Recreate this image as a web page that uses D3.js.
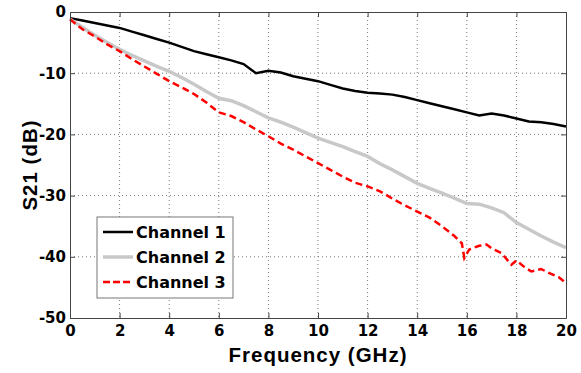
<!DOCTYPE html>
<html>
<head>
<meta charset="utf-8">
<script src="https://cdn.jsdelivr.net/npm/d3@7"></script>
<style>
body { margin: 0; background: #fff; }
text { font-family: "DejaVu Sans", sans-serif; font-weight: bold; }
text.label { font-family: "Liberation Sans", Arial, sans-serif; letter-spacing: 1px; }
</style>
</head>
<body>
<script>
// values (GHz, dB)
var freqs = [0,0.5,1,1.5,2,2.5,3,3.5,4,4.5,5,5.5,6,6.5,7,7.5,8,8.5,9,9.5,10,
             10.5,11,11.5,12,12.5,13,13.5,14,14.5,15,15.5,16,16.5,17,17.5,18,18.5,19,19.5,20];
var ch1 = [-1.0,-1.4,-1.8,-2.2,-2.6,-3.2,-3.8,-4.4,-5.0,-5.7,-6.4,-6.9,-7.4,-7.9,-8.5,-10.0,-9.6,-9.9,-10.5,-10.9,-11.3,
           -11.9,-12.5,-12.9,-13.2,-13.3,-13.5,-13.9,-14.4,-14.9,-15.4,-15.9,-16.4,-16.9,-16.6,-16.9,-17.4,-17.9,-18.0,-18.3,-18.7];
var ch2 = [-1.2,-2.5,-3.8,-5.0,-6.1,-7.1,-8.0,-8.9,-9.7,-10.7,-11.8,-13.0,-14.1,-14.5,-15.3,-16.3,-17.3,-18.0,-18.8,-19.7,-20.6,
           -21.3,-22.0,-22.8,-23.6,-24.8,-25.8,-26.9,-28.0,-28.8,-29.6,-30.4,-31.3,-31.4,-32.0,-32.8,-34.4,-35.5,-36.6,-37.6,-38.5];
var freqs3 = [0,0.5,1,1.5,2,2.5,3,3.5,4,4.5,5,5.5,6,6.5,7,7.5,8,8.5,9,9.5,10,
              10.5,11,11.5,12,12.5,13,13.5,14,14.5,15,15.5,15.8,15.9,16.1,16.5,16.8,17,17.4,17.8,18,18.3,18.6,19,19.4,19.7,20];
var ch3 = [-1.2,-2.8,-4.0,-5.3,-6.4,-7.7,-8.9,-10.1,-11.3,-12.3,-13.4,-14.8,-16.4,-17.0,-18.0,-19.2,-20.3,-21.5,-22.5,-23.6,-24.7,
           -25.8,-26.9,-27.9,-28.5,-29.3,-30.5,-31.6,-32.6,-33.6,-35.0,-36.6,-37.8,-40.2,-38.8,-38.2,-38.0,-38.6,-39.4,-41.3,-40.6,-41.6,-42.4,-42.0,-42.8,-43.3,-44.3];
var xTicks = [0,2,4,6,8,10,12,14,16,18,20];
var yTicks = [0,-10,-20,-30,-40,-50];
var names = ["Channel 1","Channel 2","Channel 3"];

var margin = {top: 12, right: 15, bottom: 55, left: 70},
    width = 581 - margin.left - margin.right,
    height = 373 - margin.top - margin.bottom;

var svg = d3.select("body").append("svg")
    .attr("width", 581).attr("height", 373)
    .append("g")
    .attr("transform", "translate(" + margin.left + "," + margin.top + ")");

var x = d3.scaleLinear().domain([0, 20]).range([0, width]);
var y = d3.scaleLinear().domain([-50, 0]).range([height, 0]);

// grid
svg.append("g").selectAll("line").data(xTicks.slice(1, -1)).enter().append("line")
    .attr("x1", d => x(d)).attr("x2", d => x(d)).attr("y1", 0).attr("y2", height)
    .attr("stroke", "#777").attr("stroke-dasharray", "1,3");
svg.append("g").selectAll("line").data(yTicks.slice(1, -1)).enter().append("line")
    .attr("y1", d => y(d)).attr("y2", d => y(d)).attr("x1", 0).attr("x2", width)
    .attr("stroke", "#777").attr("stroke-dasharray", "1,3");

// lines
var line = d3.line().x(d => x(d[0])).y(d => y(d[1]));
var series = [
  {pts: d3.zip(freqs, ch1), color: "#000", w: 2.5, dash: null, ldash: null},
  {pts: d3.zip(freqs, ch2), color: "#c8c8c8", w: 3.5, dash: null, ldash: null},
  {pts: d3.zip(freqs3, ch3), color: "#ff0000", w: 2.5, dash: "7,4", ldash: "7,3"}
];
svg.selectAll(".series").data(series).enter().append("path")
    .attr("class", "series")
    .attr("d", d => line(d.pts))
    .attr("fill", "none")
    .attr("stroke", d => d.color)
    .attr("stroke-width", d => d.w)
    .attr("stroke-dasharray", d => d.dash);

// axes with inward ticks on all four sides
var fmt = d => String(d);   // plain hyphen minus like the original
var xAxis = d3.axisBottom(x).tickValues(xTicks).tickFormat(fmt).tickSizeInner(-5).tickSizeOuter(0).tickPadding(7);
var yAxis = d3.axisLeft(y).tickValues(yTicks).tickFormat(fmt).tickSizeInner(-5).tickSizeOuter(0).tickPadding(4);
svg.append("g").attr("transform", "translate(0," + height + ")").call(xAxis);
svg.append("g").call(yAxis);
svg.append("g").call(d3.axisTop(x).tickValues(xTicks).tickSizeInner(-5).tickSizeOuter(0).tickFormat(""));
svg.append("g").attr("transform", "translate(" + width + ",0)")
    .call(d3.axisRight(y).tickValues(yTicks).tickSizeInner(-5).tickSizeOuter(0).tickFormat(""));
svg.selectAll(".domain, .tick line").attr("stroke", "#444");
svg.selectAll(".tick text").style("font-size", "15px").style("font-family", "DejaVu Sans").attr("fill", "#000");

// axis labels
svg.append("text").attr("class", "label").attr("x", width / 2).attr("y", height + 44)
    .attr("text-anchor", "middle").style("font-size", "20.5px").text("Frequency (GHz)");
svg.append("text").attr("class", "label").attr("transform", "translate(-33," + (height / 2) + ") rotate(-90)")
    .attr("text-anchor", "middle").style("font-size", "20.5px").text("S21 (dB)");

// legend
var lg = svg.append("g").attr("transform", "translate(27,205)");
lg.append("rect").attr("width", 136).attr("height", 81)
    .attr("fill", "#fff").attr("stroke", "#777");
var items = lg.selectAll(".item").data(series).enter().append("g")
    .attr("transform", (d, i) => "translate(0," + (15 + i * 25) + ")");
items.append("line").attr("x1", 6).attr("x2", 36)
    .attr("stroke", d => d.color).attr("stroke-width", d => d.w)
    .attr("stroke-dasharray", d => d.ldash);
items.append("text").attr("x", 39).attr("dy", "0.36em")
    .style("font-size", "16px").text((d, i) => names[i]);
</script>
</body>
</html>
